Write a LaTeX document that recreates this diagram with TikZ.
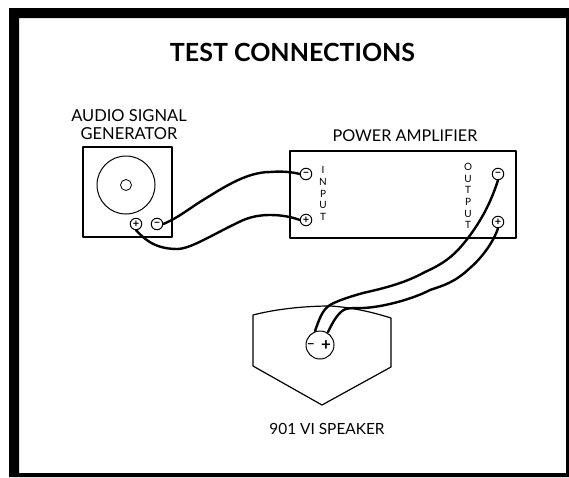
\documentclass[tikz,border=0pt]{standalone}
\usepackage{fontspec}
\setmainfont{Lato}
\tikzset{
  x=1pt,y=-1pt,
  box/.style={draw=black,line width=1.2pt,line join=round},
  wire/.style={draw=black,line width=2.4pt,line cap=round},
  term/.style={circle,draw=black,line width=1pt,fill=white,minimum size=11.5pt,inner sep=0pt,font=\bfseries\fontsize{11}{11}\selectfont},
  lbl/.style={inner sep=0pt,align=center,text=black},
  vlbl/.style={inner sep=0pt,font=\fontsize{10}{11.7}\selectfont,align=center,text=black}
}
\begin{document}
\begin{tikzpicture}
\useasboundingbox (0,0) rectangle (569,477);
\fill[white] (0,0) rectangle (569,477);
\fill[black,even odd rule] (9,8) rectangle (569,477) (19,18) rectangle (566,473);
\node[inner sep=0pt,font=\bfseries\fontsize{25}{28}\selectfont] (title) at (292.5,52) {TEST CONNECTIONS};
\node[lbl,font=\fontsize{16.5}{18}\selectfont] (gen) at (129,125) {AUDIO SIGNAL\\GENERATOR};
\node[lbl,font=\fontsize{16.2}{18}\selectfont] (amp) at (405,136) {POWER AMPLIFIER};
\node[lbl,font=\fontsize{15.4}{18}\selectfont] (spk) at (327,429) {901 VI SPEAKER};
% generator
\draw[box] (83,147) rectangle (172,237);
\node[circle,draw=black,line width=1pt,minimum size=58pt,inner sep=0pt] (dial) at (126,185) {};
\node[circle,draw=black,line width=.8pt,minimum size=11pt,inner sep=0pt] (knob) at (126,185) {};
% amplifier
\draw[box] (290,151) rectangle (516,238);
\node[vlbl] (in) at (323,193.5) {I\\N\\P\\U\\T};
\node[vlbl] (out) at (468,196) {O\\U\\T\\P\\U\\T};
% speaker
\draw[box] (253,315) .. controls (280,308) and (310,306) .. (330,306) .. controls (350,307) and (372,312) .. (391,318) -- (391,367) -- (322,405) -- (253,366) -- cycle;
% terminals
\node[term] (gm) at (157,224) {−};
\node[term] (gp) at (136,224) {+};
\node[term] (im) at (306,174) {−};
\node[term] (ip) at (306,220) {+};
\node[term] (om) at (498,174) {−};
\node[term] (op) at (498,222) {+};
\node[circle,draw=black,line width=1pt,minimum size=28pt,inner sep=0pt] (vc) at (320,345) {};
\node[inner sep=0pt,font=\bfseries\fontsize{13}{13}\selectfont] (vm) at (311,346) {−};
\node[inner sep=0pt,font=\bfseries\fontsize{17}{17}\selectfont] (vp) at (326,346) {+};
\coordinate (a) at (315,331);
\coordinate (b) at (328,332);
% wires
\draw[wire] (gm.east) .. controls (178,218) and (190,208) .. (203,200) .. controls (220,190) and (245,172) .. (270,172) .. controls (282,171) and (292,172) .. (im.west);
\draw[wire] (gp.south) .. controls (142,236) and (152,249) .. (177,249) .. controls (190,249) and (210,236) .. (237,223) .. controls (250,216) and (262,215) .. (270,215) .. controls (282,215) and (292,217) .. (ip.west);
\draw[wire] (om.south) .. controls (490,205) and (480,222) .. (468,238) .. controls (455,255) and (445,263) .. (425,272) .. controls (405,283) and (385,288) .. (363,293) .. controls (345,298) and (335,302) .. (330,305) .. controls (322,310) and (319,320) .. (a);
\draw[wire] (op.south) .. controls (495,238) and (485,255) .. (470,268) .. controls (455,282) and (445,285) .. (430,290) .. controls (415,298) and (385,307) .. (363,308) .. controls (352,308) and (345,308) .. (342,311) .. controls (335,317) and (331,326) .. (b);
\end{tikzpicture}
\end{document}
